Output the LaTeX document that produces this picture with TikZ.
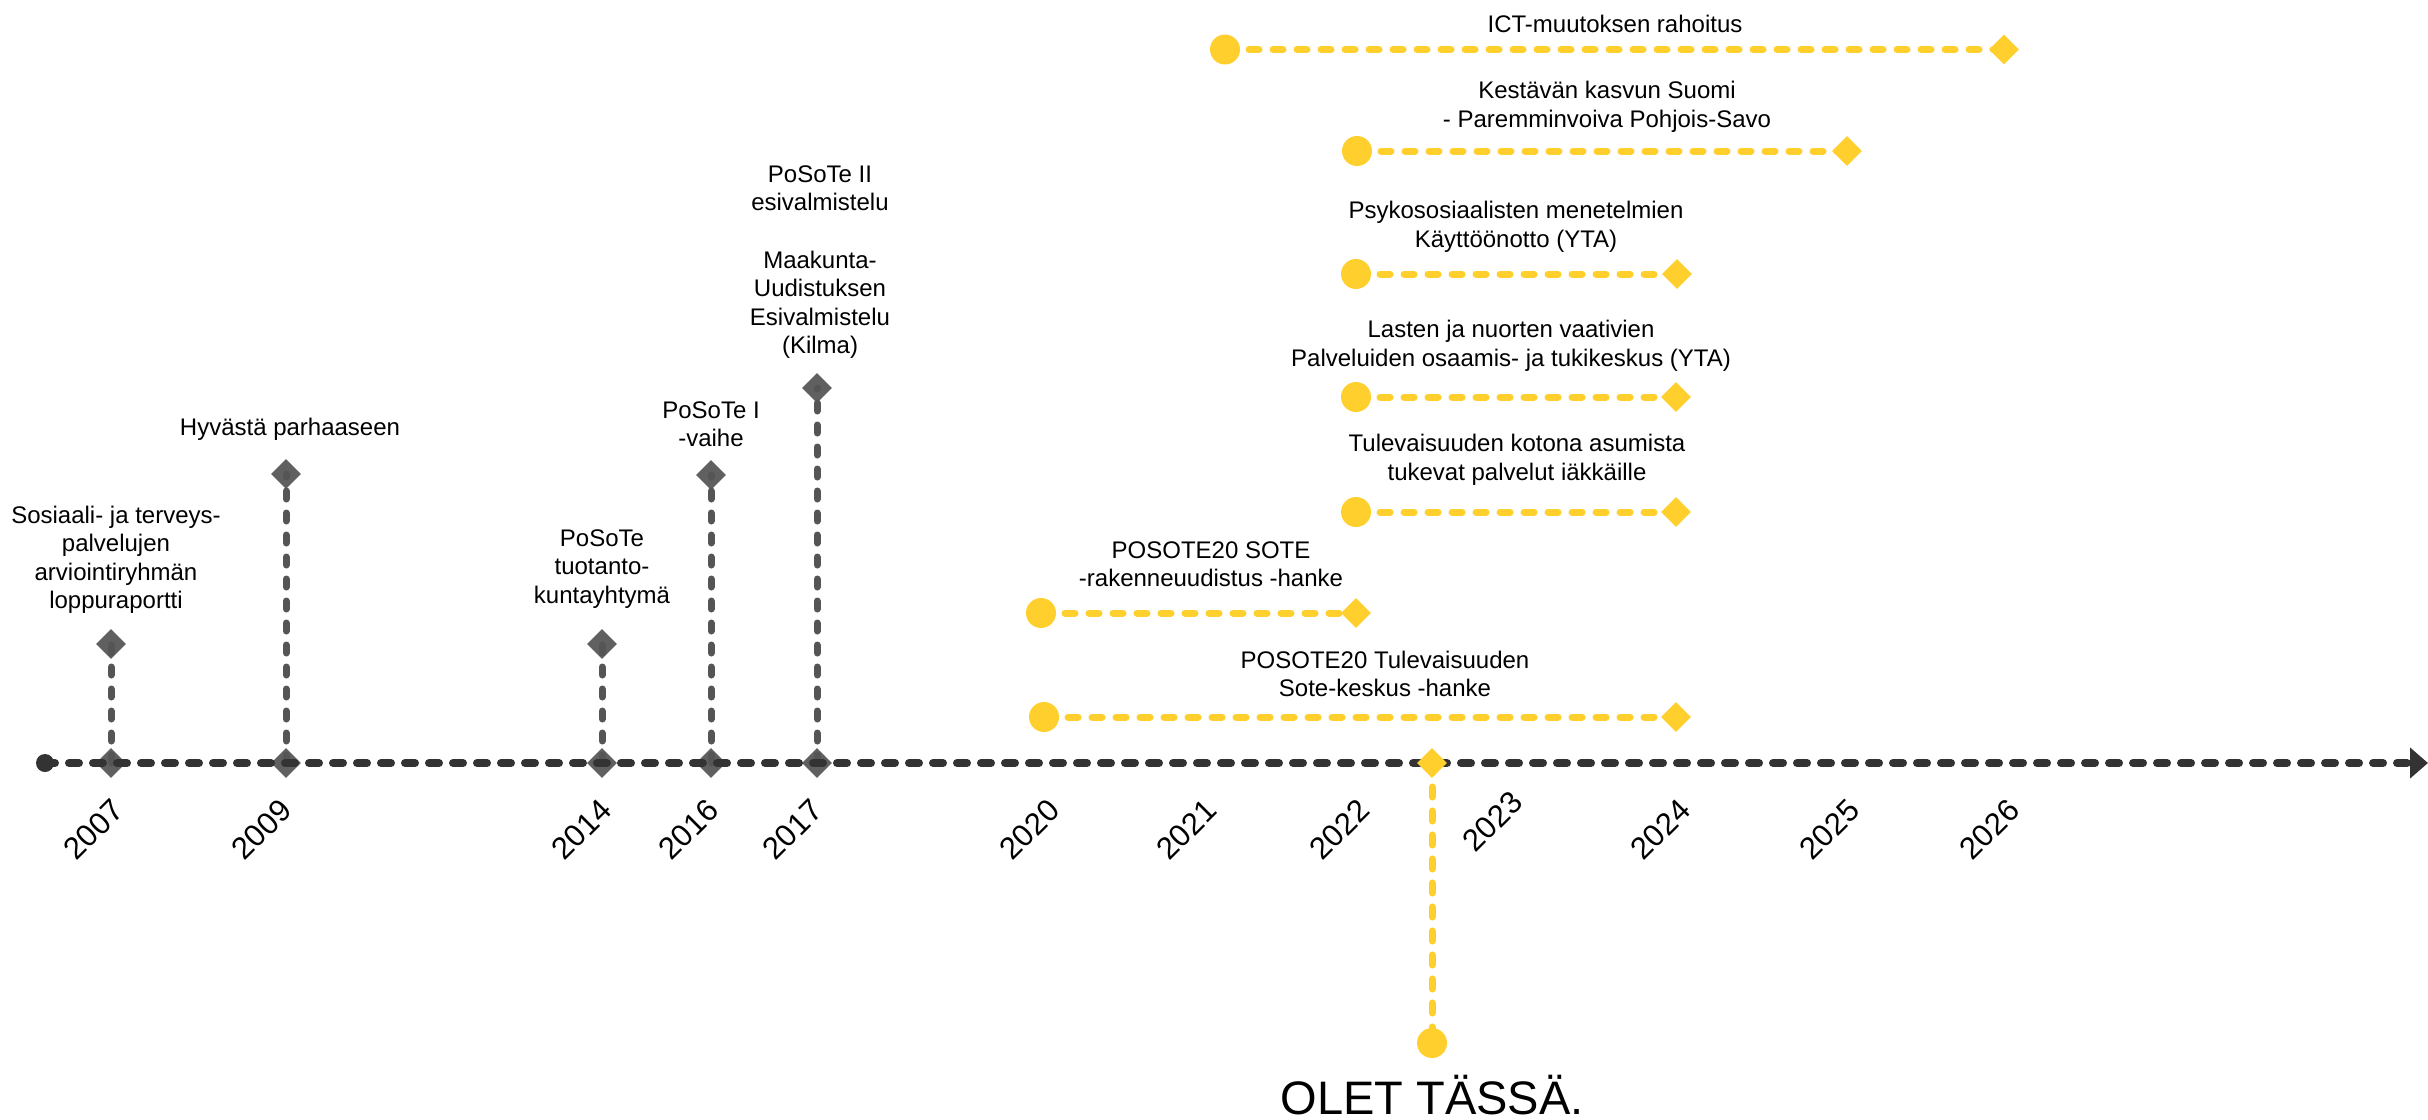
\documentclass[tikz,border=0pt]{standalone}
\usepackage{fontspec}
\setmainfont{Liberation Sans}
\usetikzlibrary{shapes.geometric,arrows.meta}
\definecolor{axc}{HTML}{333333}
\definecolor{grc}{HTML}{606060}
\definecolor{grl}{HTML}{555555}
\definecolor{ylc}{HTML}{FFCF2D}
\tikzset{
 lbl/.style={align=center, font=\fontsize{24}{28.5}\selectfont, inner sep=0pt},
 yr/.style={rotate=45, anchor=south east, inner sep=0pt, font=\fontsize{31}{31}\selectfont},
 gdia/.style={diamond, fill=grc, minimum width=30pt, minimum height=30pt, inner sep=0pt},
 ydia/.style={diamond, fill=ylc, minimum width=30pt, minimum height=30pt, inner sep=0pt},
 ydot/.style={circle, fill=ylc, minimum size=30pt, inner sep=0pt},
 adot/.style={circle, fill=axc, minimum size=18pt, inner sep=0pt},
 gline/.style={draw=grl, line width=7pt, line cap=round, dash pattern=on 8pt off 14pt},
 yline/.style={draw=ylc, line width=7pt, line cap=round, dash pattern=on 10pt off 14pt},
 axisline/.style={draw=axc, line width=8pt, line cap=round, dash pattern=on 10pt off 14pt},
}
\begin{document}
\begin{tikzpicture}[x=1pt,y=-1pt]
\useasboundingbox (0,0) rectangle (2428,1119);
% grey milestone diamonds
\node[gdia] (a2007) at (111,763) {};
\node[gdia] (b2007) at (111,644) {};
\node[gdia] (a2009) at (286,763) {};
\node[gdia] (b2009) at (286,474) {};
\node[gdia] (a2014) at (602,763) {};
\node[gdia] (b2014) at (602,644) {};
\node[gdia] (a2016) at (711,763) {};
\node[gdia] (b2016) at (711,475) {};
\node[gdia] (a2017) at (817,763) {};
\node[gdia] (b2017) at (817,388) {};
\draw[gline] (a2007.center) -- (b2007.center);
\draw[gline] (a2009.center) -- (b2009.center);
\draw[gline] (a2014.center) -- (b2014.center);
\draw[gline] (a2016.center) -- (b2016.center);
\draw[gline] (a2017.center) -- (b2017.center);
% axis
\node[adot] (start) at (45,763) {};
\coordinate (axend) at (2428,763);
\draw[axisline, -{Triangle[length=18pt,width=30pt]}] (start.center) -- (axend);
% years
\node[yr] (y2007) at (126,813) {2007};
\node[yr] (y2009) at (294,813) {2009};
\node[yr] (y2014) at (614,813) {2014};
\node[yr] (y2016) at (721,813) {2016};
\node[yr] (y2017) at (825,813) {2017};
\node[yr] (y2020) at (1062,813) {2020};
\node[yr] (y2021) at (1219,813) {2021};
\node[yr] (y2022) at (1372,813) {2022};
\node[yr] (y2023) at (1525,805) {2023};
\node[yr] (y2024) at (1693,813) {2024};
\node[yr] (y2025) at (1862,813) {2025};
\node[yr] (y2026) at (2022,813) {2026};
% grey labels
\node[lbl] (t2007) at (116,560) {Sosiaali- ja terveys-\\palvelujen\\arviointiryhmän\\loppuraportti};
\node[lbl] (t2009) at (290,429) {Hyvästä parhaaseen};
\node[lbl] (t2014) at (602,569) {PoSoTe\\tuotanto-\\kuntayhtymä};
\node[lbl] (t2016) at (711,424) {PoSoTe I\\-vaihe};
\node[lbl] (t2017) at (820,262) {PoSoTe II\\esivalmistelu\\[29pt]Maakunta-\\Uudistuksen\\Esivalmistelu\\(Kilma)};
% yellow bars
\node[ydot] (s1) at (1225,49.5) {};
\node[ydia] (e1) at (2004,49.5) {};
\node[ydot] (s2) at (1357,151) {};
\node[ydia] (e2) at (1847,151) {};
\node[ydot] (s3) at (1356,274) {};
\node[ydia] (e3) at (1677,274) {};
\node[ydot] (s4) at (1356,397) {};
\node[ydia] (e4) at (1676,397) {};
\node[ydot] (s5) at (1356,512) {};
\node[ydia] (e5) at (1676,512) {};
\node[ydot] (s6) at (1041,613) {};
\node[ydia] (e6) at (1356,613) {};
\node[ydot] (s7) at (1044,717) {};
\node[ydia] (e7) at (1676,717) {};
\draw[yline] (s1.center) -- (e1.center);
\draw[yline] (s2.center) -- (e2.center);
\draw[yline] (s3.center) -- (e3.center);
\draw[yline] (s4.center) -- (e4.center);
\draw[yline] (s5.center) -- (e5.center);
\draw[yline] (s6.center) -- (e6.center);
\draw[yline] (s7.center) -- (e7.center);
% yellow labels
\node[lbl] (l1) at (1615,24) {ICT-muutoksen rahoitus};
\node[lbl] (l2) at (1607,107) {Kestävän kasvun Suomi\\- Paremminvoiva Pohjois-Savo};
\node[lbl] (l3) at (1516,227) {Psykososiaalisten menetelmien\\Käyttöönotto (YTA)};
\node[lbl] (l4) at (1511,346) {Lasten ja nuorten vaativien\\Palveluiden osaamis- ja tukikeskus (YTA)};
\node[lbl] (l5) at (1517,460) {Tulevaisuuden kotona asumista\\tukevat palvelut iäkkäille};
\node[lbl] (l6) at (1211,564) {POSOTE20 SOTE\\-rakenneuudistus -hanke};
\node[lbl] (l7) at (1385,674) {POSOTE20 Tulevaisuuden\\Sote-keskus -hanke};
% you are here
\coordinate (herec) at (1432,763);
\node[ydot] (herebot) at (1432,1043) {};
\draw[yline] (herec) -- (herebot.center);
\node[ydia] (heretop) at (herec) {};
\node[anchor=base, inner sep=0pt, font=\fontsize{47}{47}\selectfont] (here) at (1432,1114) {OLET TÄSSÄ.};
\end{tikzpicture}
\end{document}
